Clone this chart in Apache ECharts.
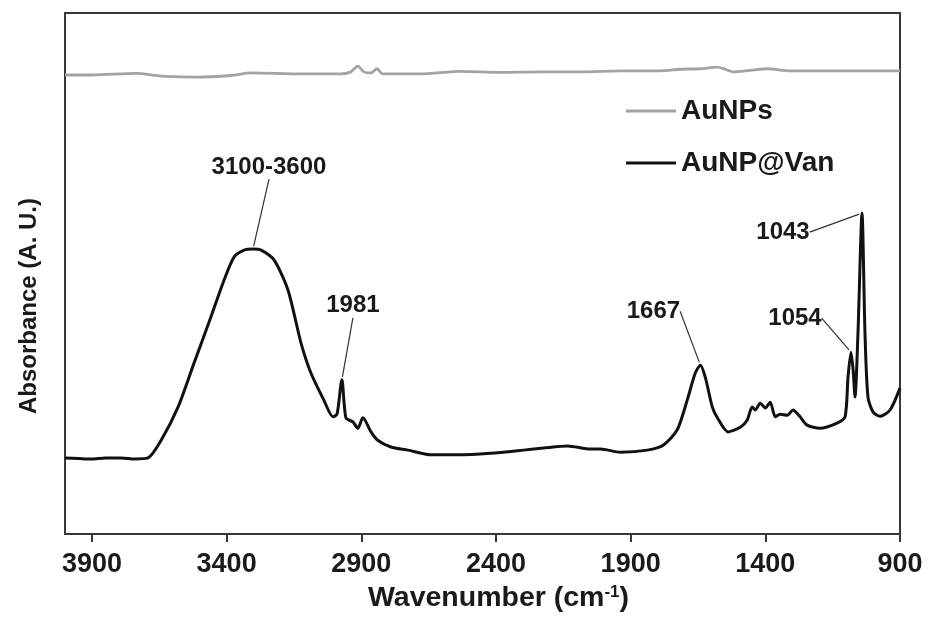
<!DOCTYPE html>
<html>
<head>
<meta charset="utf-8">
<script src="https://cdn.jsdelivr.net/npm/echarts@6/dist/echarts.min.js"></script>
<style>
html,body{margin:0;padding:0;background:#fff;}
#chart{width:928px;height:619px;}
</style>
</head>
<body>
<div id="chart"></div>
<script>
// ---- data ----
const tickLabels = [900, 1400, 1900, 2400, 2900, 3400, 3900];

const vanWavenumber = [4000, 3950, 3902, 3850, 3791, 3740, 3692, 3643, 3580, 3521, 3458, 3409, 3372, 3335, 3302, 3272, 3224, 3172, 3124, 3087, 3039, 3005, 2990, 2972, 2957, 2931, 2913, 2894, 2864, 2839, 2790, 2727, 2642, 2542, 2420, 2297, 2223, 2134, 2049, 2012, 1938, 1838, 1778, 1727, 1690, 1660, 1641, 1623, 1597, 1578, 1538, 1493, 1467, 1449, 1437, 1419, 1400, 1382, 1363, 1345, 1319, 1297, 1271, 1245, 1197, 1134, 1104, 1093, 1082, 1074, 1067, 1056, 1041, 1030, 1019, 1000, 974, 937, 900];
const vanAbsorbance = [14.6, 14.5, 14.4, 14.6, 14.6, 14.4, 14.6, 18.0, 24.4, 32.8, 41.7, 48.8, 53.2, 54.5, 54.7, 54.5, 52.6, 46.8, 36.7, 30.9, 25.7, 22.5, 23.0, 29.6, 22.3, 21.5, 20.3, 22.3, 19.6, 18.0, 16.7, 16.1, 15.2, 15.2, 15.5, 16.1, 16.5, 16.9, 16.3, 16.3, 15.7, 16.1, 17.1, 20.0, 25.7, 30.9, 32.4, 30.1, 24.4, 22.3, 19.6, 20.5, 21.9, 24.4, 23.8, 25.1, 24.2, 25.3, 22.5, 23.0, 22.8, 23.8, 22.5, 20.9, 20.3, 21.3, 22.5, 30.1, 34.9, 31.5, 26.3, 38.6, 61.6, 38.6, 26.3, 23.4, 22.6, 23.8, 28.0];

const npWavenumber = [4000, 3895, 3736, 3643, 3513, 3383, 3309, 3124, 2976, 2939, 2913, 2890, 2864, 2842, 2820, 2679, 2531, 2383, 2234, 2086, 1938, 1790, 1715, 1641, 1578, 1549, 1519, 1456, 1393, 1308, 1159, 1011, 900];
const npAbsorbance = [88.1, 88.1, 88.4, 87.9, 87.7, 88.0, 88.5, 88.3, 88.3, 88.7, 89.8, 88.7, 88.5, 89.3, 88.3, 88.3, 88.8, 88.6, 88.7, 88.7, 88.9, 88.9, 89.2, 89.3, 89.6, 89.2, 88.7, 89.0, 89.3, 88.9, 88.9, 88.9, 88.9];

const annotationText = ['3100-3600', '1981', '1667', '1054', '1043'];
const annotationWavenumber = [3302, 2972, 1641, 1082, 1041];

// ---- layout / style (not data) ----
const annotationOffsets = [[16, -82], [11, -74], [-47, -54], [-56, -34], [-79, 19]];
const FONT = '"Liberation Sans", Arial, sans-serif';
const TEXT = '#1a1a1a';

function zip(xs, ys) { return xs.map((x, i) => [x, ys[i]]); }
const annotationData = annotationWavenumber.map((w, i) => {
  const idx = vanWavenumber.indexOf(w);
  return { value: [w, vanAbsorbance[idx]], name: annotationText[i] };
});

const chart = echarts.init(document.getElementById('chart'), null, { renderer: 'canvas' });
chart.setOption({
  animation: false,
  backgroundColor: '#fff',
  grid: { left: 65, right: 28, top: 13, bottom: 85, show: true, borderColor: '#383838', borderWidth: 2, backgroundColor: 'transparent' },
  legend: {
    orient: 'vertical', left: 621, top: 92, itemWidth: 50, itemHeight: 3, itemGap: 24,
    icon: 'rect',
    data: ['AuNPs', 'AuNP@Van'],
    textStyle: { fontFamily: FONT, fontWeight: 'bold', fontSize: 28, color: TEXT }
  },
  xAxis: {
    type: 'value', inverse: true, min: 900, max: 4000, interval: 500,
    name: 'Wavenumber (cm{sup|-1})', nameLocation: 'middle', nameGap: 50,
    nameTextStyle: {
      fontFamily: FONT, fontWeight: 'bold', fontSize: 28.5, color: TEXT, padding: [0, 0, 0, 32],
      rich: { sup: { fontFamily: FONT, fontWeight: 'bold', fontSize: 17, color: TEXT, verticalAlign: 'top' } }
    },
    axisLine: { show: true, lineStyle: { color: '#383838', width: 2 } },
    axisTick: { show: true, length: 8, inside: false, customValues: tickLabels, lineStyle: { color: '#383838', width: 2 } },
    axisLabel: {
      customValues: tickLabels, margin: 17, fontFamily: FONT, fontWeight: 'bold', fontSize: 27, color: TEXT,
      formatter: function (v) { return String(v); }
    },
    splitLine: { show: false }
  },
  yAxis: {
    type: 'value', min: 0, max: 100,
    name: 'Absorbance (A. U.)', nameLocation: 'middle', nameGap: 24, nameRotate: 90,
    nameTextStyle: { fontFamily: FONT, fontWeight: 'bold', fontSize: 24, color: TEXT, padding: [0, 65, 0, 0] },
    axisLine: { show: false }, axisTick: { show: false }, axisLabel: { show: false }, splitLine: { show: false }
  },
  series: [
    {
      name: 'AuNPs', type: 'line', symbol: 'none', smooth: 0.25,
      data: zip(npWavenumber, npAbsorbance),
      lineStyle: { color: '#a3a3a3', width: 2.8, join: 'round' },
      itemStyle: { color: '#a3a3a3' }
    },
    {
      name: 'AuNP@Van', type: 'line', symbol: 'none', smooth: 0.25,
      data: zip(vanWavenumber, vanAbsorbance),
      lineStyle: { color: '#111', width: 3, join: 'round' },
      itemStyle: { color: '#111' }
    },
    {
      name: 'annotations', type: 'scatter', symbol: 'circle', symbolSize: 6,
      itemStyle: { color: 'rgba(0,0,0,0)', opacity: 1 },
      data: annotationData,
      label: {
        show: true, position: 'inside', formatter: '{b}', fontFamily: FONT, fontWeight: 'bold', fontSize: 24,
        color: TEXT, opacity: 1, textBorderWidth: 0
      },
      labelLine: { show: true, lineStyle: { color: '#333', width: 1.2, opacity: 1 } },
      labelLayout: function (p) { const o = annotationOffsets[p.dataIndex]; return { dx: o[0], dy: o[1] }; },
      emphasis: { disabled: true }, silent: true, z: 5
    }
  ]
});
</script>
</body>
</html>
